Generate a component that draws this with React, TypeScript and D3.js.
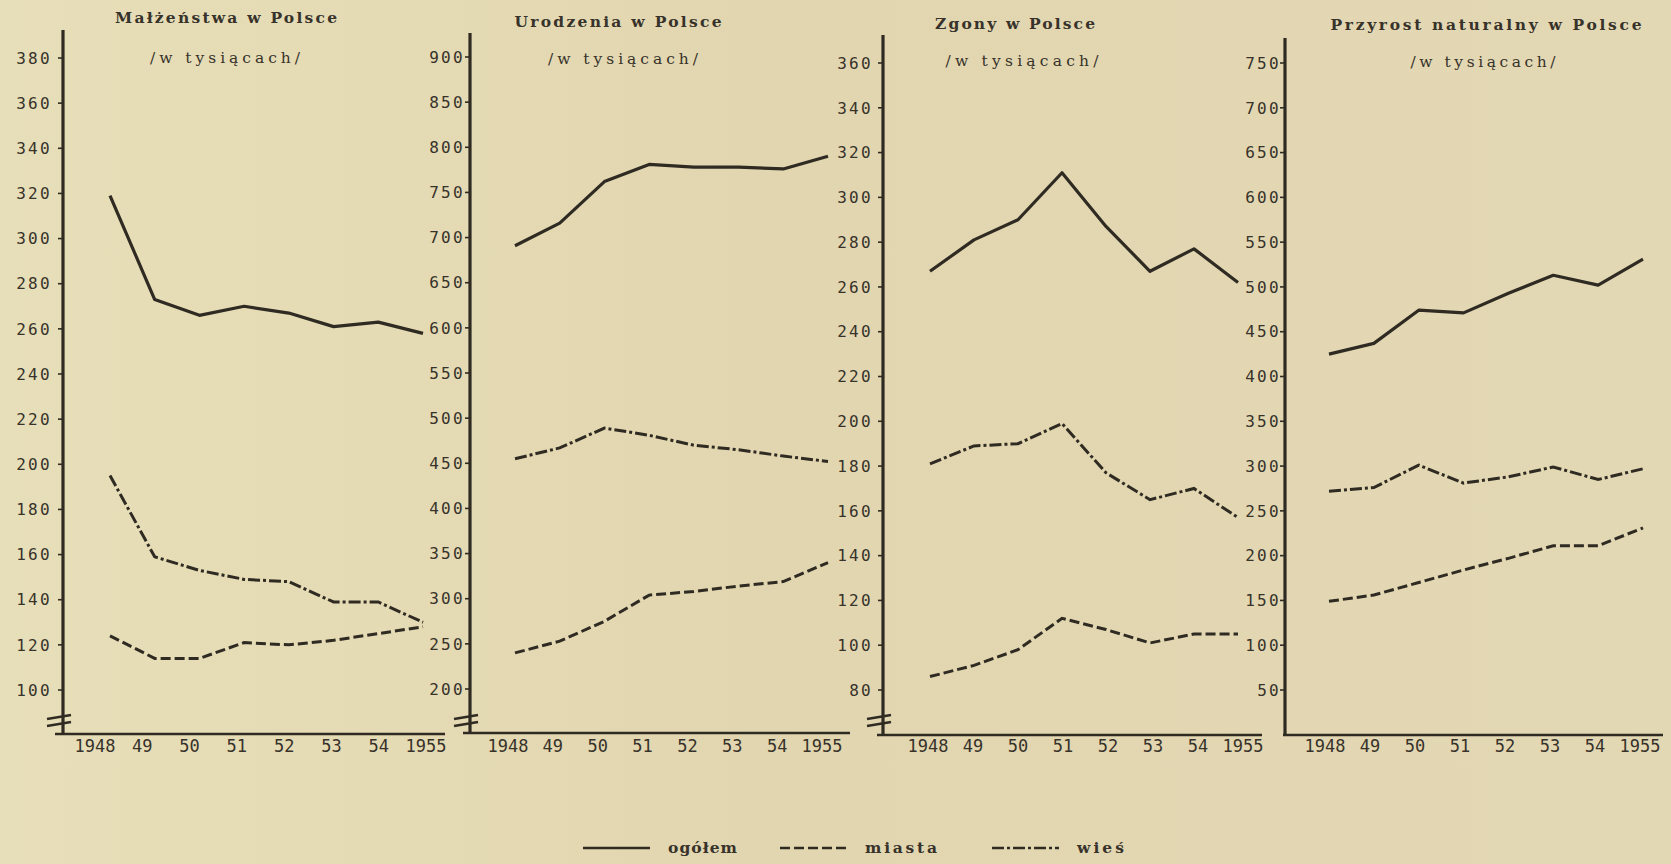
import React from "react";
import * as d3 from "d3";

const years = [1948, 1949, 1950, 1951, 1952, 1953, 1954, 1955];
const xLabels = ["1948", "49", "50", "51", "52", "53", "54", "1955"];

const marriagesTotal = [319, 273, 266, 270, 267, 261, 263, 258];
const marriagesTown = [124, 114, 114, 121, 120, 122, 125, 128];
const marriagesVillage = [195, 159, 153, 149, 148, 139, 139, 130];

const birthsTotal = [691, 716, 762, 781, 778, 778, 776, 790];
const birthsTown = [240, 253, 275, 304, 308, 314, 319, 340];
const birthsVillage = [455, 467, 489, 481, 470, 465, 458, 452];

const deathsTotal = [267, 281, 290, 311, 287, 267, 277, 262];
const deathsTown = [86, 91, 98, 112, 107, 101, 105, 105];
const deathsVillage = [181, 189, 190, 199, 177, 165, 170, 157];

const growthTotal = [425, 437, 474, 471, 493, 513, 502, 531];
const growthTown = [149, 156, 170, 184, 197, 211, 211, 231];
const growthVillage = [272, 276, 301, 281, 288, 299, 285, 297];

const marriagesTicks = d3.range(100, 381, 20);
const birthsTicks = d3.range(200, 901, 50);
const deathsTicks = d3.range(80, 361, 20);
const growthTicks = d3.range(50, 751, 50);

const titles = ["Małżeństwa w Polsce", "Urodzenia w Polsce", "Zgony w Polsce", "Przyrost naturalny w Polsce"];
const subtitle = "/w tysiącach/";
const legendLabels = ["ogółem", "miasta", "wieś"];

const INK = "#2f2b22";
const TEXT = "#37322a";
const DASH_TOWN = "10,4";
const DASH_VILLAGE = "12,3,3,3";
const TYPE_FONT = "'DejaVu Serif', 'Liberation Serif', serif";

const panels = [
  {
    title: titles[0], total: marriagesTotal, town: marriagesTown, village: marriagesVillage,
    ticks: marriagesTicks, domain: [100, 380], yRange: [690, 58], xRange: [110, 423], labelRange: [95, 426],
    axisX: 63, axisTop: 30, axisY: 734, xAxis: [55, 445], labelGap: 11, brk: true,
    titleX: 226, titleY: 23, titleW: 222, subX: 225, subY: 63, subW: 150,
  },
  {
    title: titles[1], total: birthsTotal, town: birthsTown, village: birthsVillage,
    ticks: birthsTicks, domain: [200, 900], yRange: [689, 57], xRange: [515, 828], labelRange: [508, 822],
    axisX: 470, axisTop: 33, axisY: 733, xAxis: [463, 850], labelGap: 5, brk: true,
    titleX: 618, titleY: 27, titleW: 207, subX: 623, subY: 64, subW: 150,
  },
  {
    title: titles[2], total: deathsTotal, town: deathsTown, village: deathsVillage,
    ticks: deathsTicks, domain: [80, 360], yRange: [690, 63], xRange: [930, 1238], labelRange: [928, 1243],
    axisX: 883, axisTop: 35, axisY: 735, xAxis: [877, 1262], labelGap: 10, brk: true,
    titleX: 1015, titleY: 29, titleW: 160, subX: 1022, subY: 66, subW: 153,
  },
  {
    title: titles[3], total: growthTotal, town: growthTown, village: growthVillage,
    ticks: growthTicks, domain: [50, 750], yRange: [690, 63], xRange: [1329, 1643], labelRange: [1325, 1640],
    axisX: 1285, axisTop: 38, axisY: 735, xAxis: [1283, 1663], labelGap: 4, brk: false,
    titleX: 1486, titleY: 30, titleW: 311, subX: 1483, subY: 67, subW: 145,
  },
];

function Panel({ p }: { p: any }) {
  const y = d3.scaleLinear().domain(p.domain).range(p.yRange);
  const x = d3.scalePoint<number>().domain(years).range(p.xRange);
  const xl = d3.scalePoint<string>().domain(xLabels).range(p.labelRange);
  const line = d3
    .line<number>()
    .x((_, i) => x(years[i]) as number)
    .y((v) => y(v))
    .curve(d3.curveLinear);
  return (
    <g>
      <text x={p.titleX} y={p.titleY} textAnchor="middle" fontFamily={TYPE_FONT}
        fontWeight="bold" fontSize={15.5} textLength={p.titleW} lengthAdjust="spacing" fill={TEXT}>{p.title}</text>
      <text x={p.subX} y={p.subY} textAnchor="middle" fontFamily={TYPE_FONT}
        fontSize={15.5} textLength={p.subW} lengthAdjust="spacing" fill={TEXT}>{subtitle}</text>
      {/* y axis */}
      <line x1={p.axisX} x2={p.axisX} y1={p.axisTop} y2={p.axisY} stroke={INK} strokeWidth={3.2} />
      {p.ticks.map((t: number) => (
        <g key={t}>
          <line x1={p.axisX - 5} x2={p.axisX} y1={y(t)} y2={y(t)} stroke={INK} strokeWidth={1.6} />
          <text x={p.axisX - p.labelGap} y={y(t)} dy="0.36em" textAnchor="end"
            fontFamily="'DejaVu Sans Mono', monospace" fontSize={16} letterSpacing={2.3} fill={TEXT}>{t}</text>
        </g>
      ))}
      {p.brk && (
        <g stroke={INK} strokeWidth={2.6}>
          <line x1={p.axisX - 16} x2={p.axisX + 8} y1={719} y2={715} />
          <line x1={p.axisX - 16} x2={p.axisX + 8} y1={726} y2={722} />
        </g>
      )}
      {/* x axis */}
      <line x1={p.xAxis[0]} x2={p.xAxis[1]} y1={p.axisY} y2={p.axisY} stroke={INK} strokeWidth={2.6} />
      {xLabels.map((l) => (
        <text key={l} x={xl(l)} y={752} textAnchor="middle" fontFamily="'DejaVu Sans Mono', monospace"
          fontSize={17} fill={TEXT}>{l}</text>
      ))}
      {/* series */}
      <path d={line(p.total) as string} fill="none" stroke={INK} strokeWidth={3.2} strokeLinejoin="round" />
      <path d={line(p.town) as string} fill="none" stroke={INK} strokeWidth={3} strokeDasharray={DASH_TOWN} />
      <path d={line(p.village) as string} fill="none" stroke={INK} strokeWidth={3} strokeDasharray={DASH_VILLAGE} />
    </g>
  );
}

export default function App() {
  const legend = [
    { label: legendLabels[0], dash: undefined, x: 583, w: 69 },
    { label: legendLabels[1], dash: DASH_TOWN, x: 780, w: 72 },
    { label: legendLabels[2], dash: DASH_VILLAGE, x: 992, w: 47 },
  ];
  return (
    <div style={{ position: "absolute", left: 0, top: 0 }}>
      <svg width={1671} height={864} style={{ display: "block" }}>
        <defs>
          <linearGradient id="paper" x1="0" x2="1" y1="0" y2="0">
            <stop offset="0" stopColor="#e7dfb9" />
            <stop offset="0.45" stopColor="#e2d6b0" />
            <stop offset="1" stopColor="#e3d8b4" />
          </linearGradient>
        </defs>
        <rect width={1671} height={864} fill="url(#paper)" />
        {panels.map((p, i) => (
          <Panel key={i} p={p} />
        ))}
        {legend.map((l) => (
          <g key={l.label}>
            <line x1={l.x} x2={l.x + 67} y1={848} y2={848} stroke={INK} strokeWidth={2.6} strokeDasharray={l.dash} />
            <text x={l.x + 85} y={853} fontFamily={TYPE_FONT} fontWeight="bold"
              fontSize={15.5} textLength={l.w} lengthAdjust="spacing" fill={TEXT}>{l.label}</text>
          </g>
        ))}
      </svg>
    </div>
  );
}
